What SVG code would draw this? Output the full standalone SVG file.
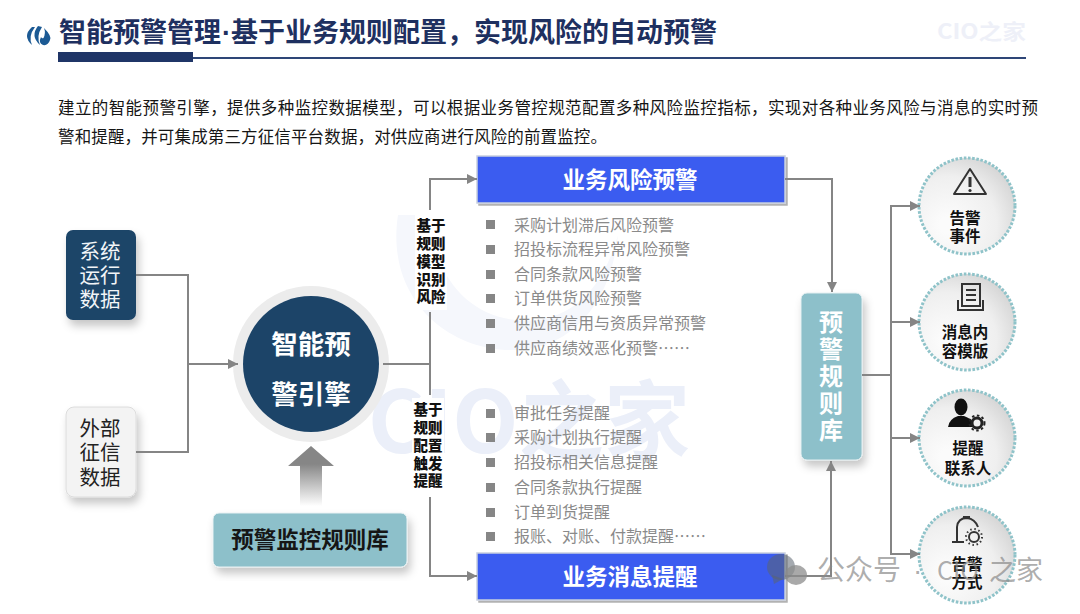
<svg xmlns="http://www.w3.org/2000/svg" width="1080" height="614" viewBox="0 0 1080 614">
<style>
text{font-family:"Noto Sans CJK SC","Liberation Sans",sans-serif}
.b{font-weight:700}
.li{font-size:16px;fill:#8a8a8a}
.bul{fill:#868686}
.lab{font-size:14.5px;font-weight:900;fill:#111;text-anchor:middle}
.ct{font-size:15.5px;font-weight:700;fill:#111;text-anchor:middle}
.conn{fill:none;stroke:#858585;stroke-width:2}
.arr{marker-end:url(#ah)}
.ring{fill:url(#cg);stroke:#8fc3c9;stroke-width:3;stroke-dasharray:2.6 1.6}
.ic{fill:none;stroke:#333;stroke-width:2}
.wm{fill:#ebeff9;font-weight:700}
</style>
<defs>
<marker id="ah" markerUnits="userSpaceOnUse" markerWidth="11" markerHeight="10" refX="10" refY="5" orient="auto"><path d="M0 0L10 5L0 10Z" fill="#858585"/></marker>
<filter id="sh" x="-25%" y="-25%" width="150%" height="150%"><feDropShadow dx="3" dy="6" stdDeviation="4" flood-color="#000" flood-opacity=".22"/></filter>
<filter id="sh2" x="-5%" y="-10%" width="110%" height="125%"><feDropShadow dx="2" dy="2" stdDeviation=".7" flood-color="#000" flood-opacity=".3"/></filter>
<radialGradient id="cg" cx=".3" cy=".7" r=".85"><stop offset=".1" stop-color="#fbfbfb"/><stop offset=".6" stop-color="#efefef"/><stop offset="1" stop-color="#cfcfcf"/></radialGradient>
<linearGradient id="ag" x1="0" y1="0" x2="0" y2="1"><stop offset=".3" stop-color="#868686"/><stop offset="1" stop-color="#fff"/></linearGradient>
</defs>
<rect width="1080" height="614" fill="#fff"/>
<g id="watermark">
<path d="M398 215C385 300 450 352 515 350C565 350 610 310 618 235C600 300 560 325 515 320C470 315 435 280 428 215Z" fill="#f5f7fc"/>
<text x="368" y="453" class="wm" font-size="86" textLength="322" lengthAdjust="spacing">CIO之家</text>
<text x="937" y="39" fill="#eef0f8" font-size="21" font-weight="700" textLength="89" lengthAdjust="spacingAndGlyphs">CIO之家</text>
</g>
<g id="header">
<g fill="#1c5a94"><path d="M32 27Q22 36 32 45Q28 36 35 27Z"/><path d="M38 26Q30 36 40 45Q36 36 42 27Z"/><path d="M44 28Q52 36 50 40Q48 46 43 45Q38 43 41 37Q42 39 43.500 38Q46 33 44 28Z"/></g>
<text y="42" font-size="27" class="b" fill="#1e3060"><tspan x="59">智能预警管理</tspan><tspan x="222" font-family="Liberation Sans">·</tspan><tspan x="231">基于业务规则配置，实现风险的自动预警</tspan></text>
<rect x="58" y="52" width="135" height="10" fill="#1f3567"/>
<rect x="193" y="57" width="833" height="2" fill="#2e4677"/>
<text x="58" y="114" font-size="16.5" fill="#151515" textLength="980" lengthAdjust="spacing">建立的智能预警引擎，提供多种监控数据模型，可以根据业务管控规范配置多种风险监控指标，实现对各种业务风险与消息的实时预</text>
<text x="58" y="143" font-size="16.5" fill="#151515" textLength="549" lengthAdjust="spacing">警和提醒，并可集成第三方征信平台数据，对供应商进行风险的前置监控。</text>
</g>
<g id="node-sys"><rect x="66" y="230" width="70" height="90" rx="7" fill="#1c4468" filter="url(#sh)"/>
<g fill="#f2f5f8" font-size="20.5" text-anchor="middle"><text x="100" y="259">系统</text><text x="100" y="283">运行</text><text x="100" y="307">数据</text></g></g>
<g id="node-ext"><rect x="66" y="407" width="70" height="90" rx="8" fill="#f3f3f3" stroke="#dcdcdc" filter="url(#sh)"/>
<g fill="#222" font-size="20.5" text-anchor="middle"><text x="100" y="436">外部</text><text x="100" y="460">征信</text><text x="100" y="485">数据</text></g></g>
<g id="node-engine"><circle cx="311" cy="364" r="78" fill="#ececec"/><circle cx="311" cy="364" r="68" fill="#1c4468"/>
<g fill="#fff" font-size="26.5" font-weight="700" text-anchor="middle"><text x="311" y="354">智能预</text><text x="311" y="404">警引擎</text></g></g>
<g id="node-arrow"><path d="M311 446L334 466H322V506H300V466H288Z" fill="url(#ag)"/></g>
<g id="node-rulelib"><rect x="213" y="513" width="194" height="54" rx="6" fill="#8dc0ca" stroke="#e8f0f2" filter="url(#sh)"/>
<text x="310" y="548" font-size="22.5" font-weight="700" fill="#161616" text-anchor="middle">预警监控规则库</text></g>
<g id="node-risk"><rect x="477" y="156" width="308" height="47" fill="#3a5cf0" stroke="#c9d0de" stroke-width="1.500" filter="url(#sh2)"/>
<text x="630" y="188" font-size="22.5" font-weight="700" fill="#fff" text-anchor="middle">业务风险预警</text></g>
<g id="node-msg"><rect x="477" y="553" width="308" height="47" fill="#3a5cf0" stroke="#c9d0de" stroke-width="1.500" filter="url(#sh2)"/>
<text x="630" y="585" font-size="22.5" font-weight="700" fill="#fff" text-anchor="middle">业务消息提醒</text></g>
<g id="label-model"><rect x="415" y="212" width="32" height="98" fill="#fff"/><text class="lab" x="431" y="231">基于</text><text class="lab" x="431" y="249">规则</text><text class="lab" x="431" y="267">模型</text><text class="lab" x="431" y="285">识别</text><text class="lab" x="431" y="302">风险</text></g>
<g id="label-config"><rect x="412" y="398" width="32" height="97" fill="#fff"/><text class="lab" x="428" y="415">基于</text><text class="lab" x="428" y="433">规则</text><text class="lab" x="428" y="451">配置</text><text class="lab" x="428" y="469">触发</text><text class="lab" x="428" y="486">提醒</text></g>
<g id="list-risk">
<rect class="bul" x="486" y="220" width="9" height="9"/><text class="li" x="514" y="231">采购计划滞后风险预警</text>
<rect class="bul" x="486" y="245" width="9" height="9"/><text class="li" x="514" y="255">招投标流程异常风险预警</text>
<rect class="bul" x="486" y="270" width="9" height="9"/><text class="li" x="514" y="280">合同条款风险预警</text>
<rect class="bul" x="486" y="294" width="9" height="9"/><text class="li" x="514" y="304">订单供货风险预警</text>
<rect class="bul" x="486" y="319" width="9" height="9"/><text class="li" x="514" y="329">供应商信用与资质异常预警</text>
<rect class="bul" x="486" y="344" width="9" height="9"/><text class="li" x="514" y="354">供应商绩效恶化预警……</text>
</g>
<g id="list-msg">
<rect class="bul" x="486" y="409" width="9" height="9"/><text class="li" x="514" y="419">审批任务提醒</text>
<rect class="bul" x="486" y="433" width="9" height="9"/><text class="li" x="514" y="443">采购计划执行提醒</text>
<rect class="bul" x="486" y="458" width="9" height="9"/><text class="li" x="514" y="468">招投标相关信息提醒</text>
<rect class="bul" x="486" y="483" width="9" height="9"/><text class="li" x="514" y="493">合同条款执行提醒</text>
<rect class="bul" x="486" y="508" width="9" height="9"/><text class="li" x="514" y="518">订单到货提醒</text>
<rect class="bul" x="486" y="532" width="9" height="9"/><text class="li" x="514" y="542">报账、对账、付款提醒……</text>
</g>
<g id="node-rules"><rect x="801" y="293" width="61" height="167" rx="6" fill="#8dc0ca" stroke="#e3eef0" filter="url(#sh)"/>
<g fill="#fff" font-size="24" font-weight="700" text-anchor="middle"><text x="831" y="331">预</text><text x="831" y="358">警</text><text x="831" y="385">规</text><text x="831" y="412">则</text><text x="831" y="439">库</text></g></g>
<g id="node-alert"><circle class="ring" cx="967" cy="206" r="48"/>
<path class="ic" stroke-width="2.600" stroke-linejoin="round" d="M970 169L986 194H954Z"/><path d="M970 177V187" stroke="#333" stroke-width="3"/><circle cx="970" cy="190.500" r="1.600" fill="#333"/>
<text class="ct" x="965" y="224">告警</text><text class="ct" x="965" y="242">事件</text></g>
<g id="node-template"><circle class="ring" cx="967" cy="322" r="48"/>
<path class="ic" d="M962 284H980V306H962ZM966 290H976M966 295H976M966 300H976M958 300V310H983V300"/>
<text class="ct" x="965" y="338">消息内</text><text class="ct" x="965" y="357">容模版</text></g>
<g id="node-contact"><circle class="ring" cx="967" cy="438" r="48"/>
<ellipse cx="961" cy="407" rx="6.500" ry="8.500" fill="#111"/><path d="M948 427Q949 419 958 416H964Q970 418 973 422V427Z" fill="#111"/>
<circle cx="977" cy="423" r="5" fill="none" stroke="#222" stroke-width="3"/><circle cx="977" cy="423" r="7.500" fill="none" stroke="#222" stroke-width="2" stroke-dasharray="2.500 2.500"/>
<text class="ct" x="968" y="454">提醒</text><text class="ct" x="968" y="474">联系人</text></g>
<g id="node-notify"><circle class="ring" cx="967" cy="555" r="48"/>
<path class="ic" stroke-width="1.600" d="M957 541V527Q958 518 967 518Q975 519 978 527M952 542H964M963 517H970"/>
<circle cx="974" cy="537" r="5" class="ic" stroke-width="1.600"/><circle cx="974" cy="537" r="8" fill="none" stroke="#333" stroke-width="2" stroke-dasharray="1.500 2.700"/>
<text class="ct" x="967" y="570">告警</text><text class="ct" x="967" y="588">方式</text></g>
<g id="connectors">
<path class="conn" d="M136 275H188V452H136"/>
<path class="conn arr" d="M188 364H238"/>
<path class="conn" d="M383 364H430"/>
<path class="conn arr" d="M430 210V179H477"/>
<path class="conn" d="M430 312V395"/>
<path class="conn arr" d="M430 497V576H477"/>
<path class="conn arr" d="M785 179H832V292"/>
<path class="conn arr" d="M785 576H831V461"/>
<path class="conn" d="M862 375H891"/>
<path class="conn arr" d="M891 438V206H920"/>
<path class="conn arr" d="M891 322H920"/>
<path class="conn arr" d="M891 438H920"/>
<path class="conn arr" d="M891 438V554H920"/>
</g>
<g id="overlay-mark">
<ellipse cx="781" cy="567" rx="14" ry="13" fill="#5b6470" fill-opacity=".55"/><path d="M772 575L774 584L783 579Z" fill="#5b6470" fill-opacity=".55"/>
<ellipse cx="796" cy="575" rx="11" ry="10" fill="#8c8c8c" fill-opacity=".75"/>
<text y="580" font-size="28" fill="#8a8a8a" fill-opacity=".7"><tspan x="817">公众号</tspan><tspan x="913" font-family="Liberation Sans">·</tspan><tspan x="937" font-size="25">CIO</tspan><tspan x="989" font-size="27">之家</tspan></text>
</g>
</svg>
